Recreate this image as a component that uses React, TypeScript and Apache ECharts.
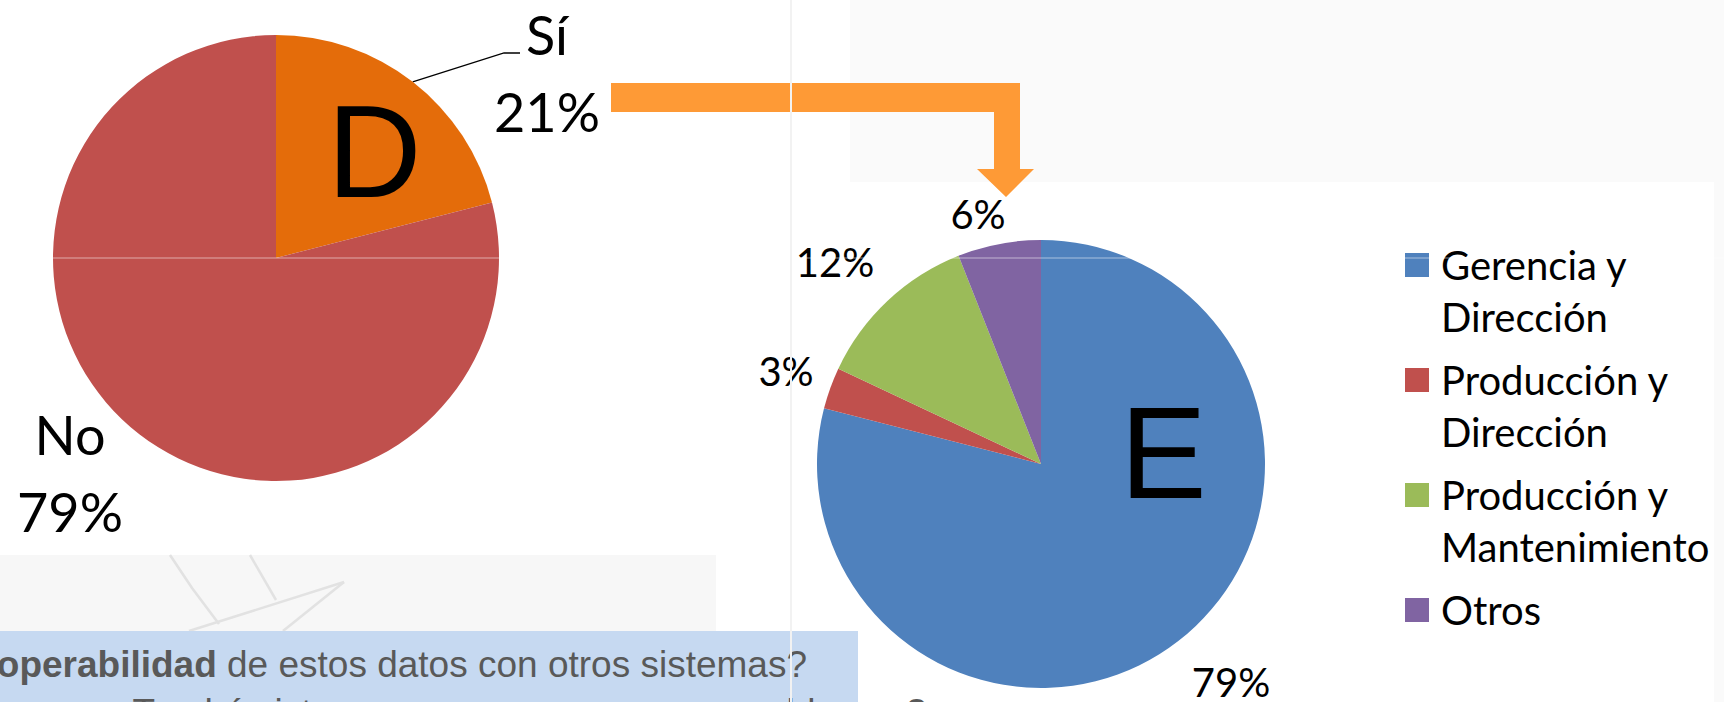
import React, { useEffect, useRef } from "react";
import * as echarts from "echarts";

// ---- Data ----
const dCategories = ["Sí", "No"];
const dValues = [21, 79];
const dColors = ["#E46C0A", "#C0504D"];

const eCategories = [
  "Gerencia y Dirección",
  "Producción y Dirección",
  "Producción y Mantenimiento",
  "Otros",
];
const eValues = [79, 3, 12, 6];
const eColors = ["#4F81BD", "#C0504D", "#9BBB59", "#8064A2"];
const eLegendLines = [
  ["Gerencia y", "Dirección"],
  ["Producción y", "Dirección"],
  ["Producción y", "Mantenimiento"],
  ["Otros"],
];

const panelLetters = ["D", "E"];
const questionBold = "¿Existe interoperabilidad";
const questionRest = " de estos datos con otros sistemas?";
const questionLine2 = "¿Tendrá sistemas comunes o nuevos problemas?";

// ---- Layout (positions/sizes only) ----
const W = 1724;
const H = 702;
const cxD = 276, cyD = 258, rD = 223;
const cxE = 1041, cyE = 464, rE = 224;
const dLabelOffsets = [[271, -185], [-206, 215]];
const eLabelOffsets = [[190, 218], [-255, -93], [-206, -202], [-63, -250]];

export default function App() {
  const ref = useRef<HTMLDivElement>(null);

  useEffect(() => {
    if (!ref.current) return;
    const chart = echarts.init(ref.current, undefined, { renderer: "svg" });

    const option: any = {
      animation: false,
      backgroundColor: "#FFFFFF",
      legend: {
        data: eCategories.map((n, i) => ({
          name: n,
          textStyle: { padding: eLegendLines[i].length === 1 ? [52, 0, 52, 7] : [0, 0, 0, 7] },
        })),
        orient: "vertical",
        left: 1405,
        top: 187,
        padding: 0,
        itemWidth: 24,
        itemHeight: 24,
        itemGap: -41,
        icon: "rect",
        selectedMode: false,
        formatter: (name: string) => {
          const lines = eLegendLines[eCategories.indexOf(name)];
          return lines.length === 1 ? lines[0] : "\n" + lines.join("\n");
        },
        textStyle: { fontFamily: "Lato", fontSize: 40, lineHeight: 52, color: "#000" },
      },
      graphic: {
        elements: [
          { type: "rect", z: 0, shape: { x: 850, y: 0, width: W - 850, height: 182 }, style: { fill: "#FAFAFA" }, silent: true },
          { type: "rect", z: 0, shape: { x: 1714, y: 182, width: 10, height: H - 182 }, style: { fill: "#FAFAFA" }, silent: true },
          { type: "rect", z: 0, shape: { x: 0, y: 555, width: 716, height: 76 }, style: { fill: "#F7F7F7" }, silent: true },
          { type: "polyline", z: 1, shape: { points: [[170, 555], [192, 588], [219, 624]] }, style: { stroke: "#E2E2E2", lineWidth: 2.5, fill: null }, silent: true },
          { type: "polyline", z: 1, shape: { points: [[250, 555], [276, 600]] }, style: { stroke: "#E2E2E2", lineWidth: 2.5, fill: null }, silent: true },
          { type: "polyline", z: 1, shape: { points: [[189, 631], [344, 582]] }, style: { stroke: "#E2E2E2", lineWidth: 2.5, fill: null }, silent: true },
          { type: "polyline", z: 1, shape: { points: [[283, 631], [344, 582]] }, style: { stroke: "#E2E2E2", lineWidth: 2.5, fill: null }, silent: true },
          { type: "rect", z: 1, shape: { x: 0, y: 631, width: 858, height: H - 631 }, style: { fill: "#C6D9F1" }, silent: true },
          {
            type: "text", z: 3, x: 807, y: 664,
            style: {
              text: "{b|" + questionBold + "}" + questionRest,
              rich: { b: { fontWeight: "bold", fontSize: 37, fontFamily: "Liberation Sans", fill: "#595959" } },
              fontSize: 37, fontFamily: "Liberation Sans", fill: "#595959", align: "right", verticalAlign: "middle",
            },
            silent: true,
          },
          {
            type: "text", z: 3, x: 110, y: 712,
            style: { text: questionLine2, fontSize: 37, fontFamily: "Liberation Sans", fill: "#595959", align: "left", verticalAlign: "middle" },
            silent: true,
          },
          {
            type: "polygon", z: 3,
            shape: { points: [[611, 83], [1020, 83], [1020, 169], [1034, 169], [1006, 197], [977, 169], [994, 169], [994, 112], [611, 112]] },
            style: { fill: "#FE9A36" },
            silent: true,
          },
          { type: "line", z: 20, shape: { x1: 0, y1: 258, x2: W, y2: 258 }, style: { stroke: "rgba(255,255,255,0.35)", lineWidth: 1.5 }, silent: true },
          { type: "line", z: 20, shape: { x1: 791, y1: 0, x2: 791, y2: H }, style: { stroke: "#F2F2F2", lineWidth: 2 }, silent: true },
          {
            type: "text", z: 20, x: 327, y: 151,
            style: { text: panelLetters[0], fontSize: 131, fontFamily: "Liberation Sans", fill: "#000", align: "left", verticalAlign: "middle" },
            silent: true,
          },
          {
            type: "text", z: 20, x: 1120, y: 453,
            style: { text: panelLetters[1], fontSize: 130, fontFamily: "Liberation Sans", fill: "#000", align: "left", verticalAlign: "middle" },
            silent: true,
          },
        ],
      },
      series: [
        {
          type: "pie",
          z: 5,
          center: [cxD, cyD],
          radius: rD,
          startAngle: 90,
          clockwise: true,
          avoidLabelOverlap: false,
          emphasis: { disabled: true },
          itemStyle: { borderWidth: 0 },
          label: {
            show: true,
            position: "outside",
            formatter: (p: any) => p.name + "\n" + p.percent.toFixed(0) + "%",
            fontFamily: "Lato",
            fontSize: 54,
            lineHeight: 77,
            color: "#000",
          },
          labelLine: { show: true, length: 10, length2: 10, smooth: false, lineStyle: { color: "#000", width: 1.3 } },
          labelLayout: (p: any) => {
            const off = dLabelOffsets[p.dataIndex];
            const x = cxD + off[0];
            const y = cyD + off[1];
            const res: any = { x, y, align: "center", verticalAlign: "middle" };
            if (p.dataIndex === 0 && p.labelLinePoints) {
              const p0 = p.labelLinePoints[0];
              res.labelLinePoints = [[p0[0], p0[1]], [x - 43, y - 20], [x - 27, y - 20]];
            }
            return res;
          },
          data: dCategories.map((n, i) => ({
            name: n,
            value: dValues[i],
            itemStyle: { color: dColors[i] },
            labelLine: { show: i === 0 },
          })),
        },
        {
          type: "pie",
          z: 5,
          center: [cxE, cyE],
          radius: rE,
          startAngle: 90,
          clockwise: true,
          avoidLabelOverlap: false,
          emphasis: { disabled: true },
          itemStyle: { borderWidth: 0 },
          label: {
            show: true,
            position: "outside",
            formatter: (p: any) => p.percent.toFixed(0) + "%",
            fontFamily: "Lato",
            fontSize: 40,
            color: "#000",
          },
          labelLine: { show: false },
          labelLayout: (p: any) => {
            const off = eLabelOffsets[p.dataIndex];
            return { x: cxE + off[0], y: cyE + off[1], align: "center", verticalAlign: "middle" };
          },
          data: eCategories.map((n, i) => ({
            name: n,
            value: eValues[i],
            itemStyle: { color: eColors[i] },
          })),
        },
      ],
    };

    chart.setOption(option);
    return () => chart.dispose();
  }, []);

  return (
    <div
      ref={ref}
      style={{ position: "fixed", left: 0, top: 0, width: W, height: H, background: "#fff" }}
    />
  );
}
